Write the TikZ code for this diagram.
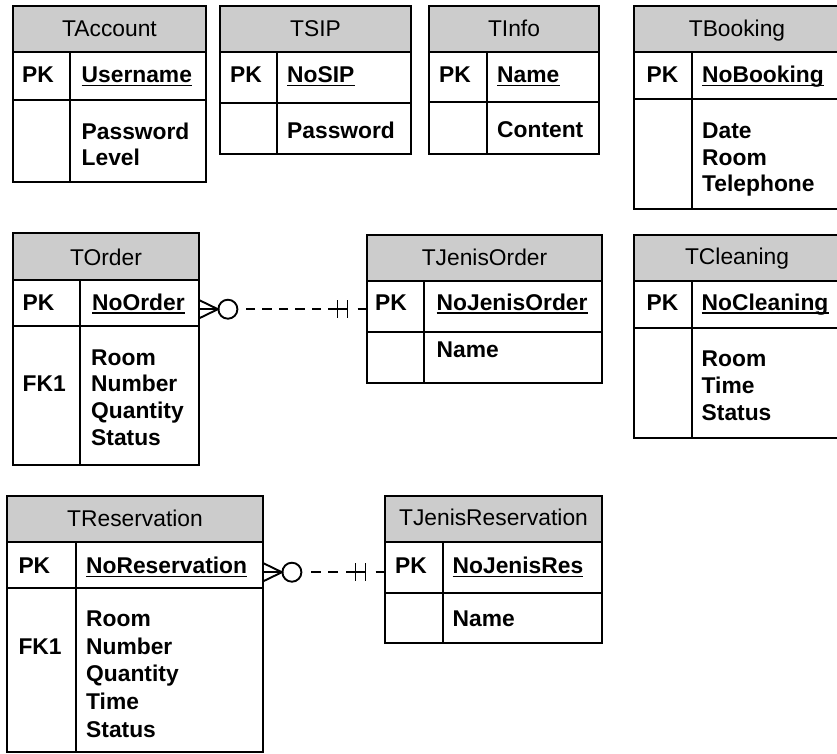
\documentclass[tikz,border=0pt]{standalone}
\usepackage{fontspec}
\setmainfont{Liberation Sans}
\usetikzlibrary{calc}
\definecolor{hdrgray}{RGB}{204,204,204}
\tikzset{
  frame/.style={line width=1.2pt, draw=black},
  ttl/.style={inner sep=0pt, anchor=base, font=\fontsize{22.8}{26.8}\selectfont},
  fld/.style={inner sep=0pt, anchor=base west, font=\fontsize{22.8}{26.8}\selectfont\bfseries},
  conn/.style={line width=1.9pt, draw=black},
  ulin/.style={line width=1.3pt},
}
% name, left, top, right, divider, header bottom, pk bottom, bottom
\newcommand\erframe[8]{%
  \fill[hdrgray] (#2,#3) rectangle (#4,#6);
  \draw[frame] (#2,#3) rectangle (#4,#8);
  \draw[frame] (#2,#6) -- (#4,#6) (#2,#7) -- (#4,#7) (#5,#6) -- (#5,#8);
  \node[inner sep=0pt, minimum width={(#4-#2)*1pt}, minimum height={(#7-#6)*1pt}, anchor=north west] (#1-pk) at (#2,#6) {};
}
% name, x, baseline, text
\newcommand\erkey[4]{%
  \node[fld] (#1-key) at (#2,#3) {#4};
  \draw[ulin] ([yshift=-3pt]#1-key.base west) -- ([yshift=-3pt]#1-key.base east);
}
% name, x, first baseline, skip, list
\newcommand\erbody[5]{%
  \foreach \fldtext [count=\fldi] in {#5}
    \node[fld] (#1-f\fldi) at (#2,{#3+(\fldi-1)*#4}) {\fldtext};
}
\begin{document}
\begin{tikzpicture}[x=1pt,y=-1pt]
\useasboundingbox (0,0) rectangle (837,754);

% TAccount
\erframe{TAccount}{13}{6}{206}{70}{52}{100}{182}
\node[ttl] (TAccount-title) at (109.5,36.7) {TAccount};
\node[fld] (TAccount-pkl) at (22,82.7) {PK};
\erkey{TAccount}{81.5}{82.7}{Username}
\erbody{TAccount}{81.5}{139.3}{26.3}{Password,Level}

% TSIP
\erframe{TSIP}{220}{6}{411}{277}{52}{103}{154}
\node[ttl] (TSIP-title) at (315.5,36.7) {TSIP};
\node[fld] (TSIP-pkl) at (230,82.7) {PK};
\erkey{TSIP}{287}{82.7}{NoSIP}
\erbody{TSIP}{287}{138.5}{26.3}{Password}

% TInfo
\erframe{TInfo}{429}{6}{599}{487}{52}{102}{154}
\node[ttl] (TInfo-title) at (514,36.2) {TInfo};
\node[fld] (TInfo-pkl) at (439,82.7) {PK};
\erkey{TInfo}{497}{82.7}{Name}
\erbody{TInfo}{497}{137.8}{26.3}{Content}

% TBooking
\erframe{TBooking}{634}{6}{841}{692}{52}{99}{209}
\node[ttl] (TBooking-title) at (737,36.2) {TBooking};
\node[fld] (TBooking-pkl) at (646.5,82.7) {PK};
\erkey{TBooking}{702}{82.7}{NoBooking}
\erbody{TBooking}{702}{139}{26.5}{Date,Room,Telephone}

% TOrder
\erframe{TOrder}{13}{233}{199}{80}{280}{326}{465}
\node[ttl] (TOrder-title) at (106,265.5) {TOrder};
\node[fld] (TOrder-pkl) at (22.5,310) {PK};
\erkey{TOrder}{92}{310}{NoOrder}
\erbody{TOrder}{91}{365}{26.7}{Room,Number,Quantity,Status}
\node[fld] (TOrder-fk) at (22.5,391.7) {FK1};

% TJenisOrder
\erframe{TJenisOrder}{367}{235}{602}{424}{281}{332}{383}
\node[ttl] (TJenisOrder-title) at (484.5,265) {TJenisOrder};
\node[fld] (TJenisOrder-pkl) at (375,310) {PK};
\erkey{TJenisOrder}{436.5}{310}{NoJenisOrder}
\erbody{TJenisOrder}{436.5}{357.5}{26.5}{Name}

% TCleaning
\erframe{TCleaning}{634}{235}{841}{692}{281}{328}{438}
\node[ttl] (TCleaning-title) at (737,264) {TCleaning};
\node[fld] (TCleaning-pkl) at (646.5,310) {PK};
\erkey{TCleaning}{701.5}{310}{NoCleaning}
\erbody{TCleaning}{701.5}{366.7}{26.7}{Room,Time,Status}

% TReservation
\erframe{TReservation}{7}{496}{263}{76}{542}{588}{752}
\node[ttl] (TReservation-title) at (135,526.5) {TReservation};
\node[fld] (TReservation-pkl) at (18.3,573.3) {PK};
\erkey{TReservation}{86}{573.3}{NoReservation}
\erbody{TReservation}{86}{626.7}{27.6}{Room,Number,Quantity,Time,Status}
\node[fld] (TReservation-fk) at (18.3,654.3) {FK1};

% TJenisReservation
\erframe{TJenisReservation}{385}{496}{602}{443}{542}{593}{643}
\node[ttl] (TJenisReservation-title) at (493.5,525.5) {TJenisReservation};
\node[fld] (TJenisReservation-pkl) at (395,573.3) {PK};
\erkey{TJenisReservation}{452.5}{573.3}{NoJenisRes}
\erbody{TJenisReservation}{452.5}{626.7}{26.5}{Name}

% Connector TOrder -- TJenisOrder
\path ($(TOrder-pk.east)+(0,6)$) coordinate (oA);
\coordinate (oB) at (oA -| TJenisOrder-pk.west);
\draw[conn] ($(oA)+(0,-9)$) -- ($(oA)+(18.5,0)$) -- ($(oA)+(0,9)$);
\draw[conn] (oA) -- ($(oA)+(18.5,0)$);
\draw[conn] ($(oA)+(28.5,0)$) circle[radius=9.5];
\draw[conn, dash pattern=on 9.5pt off 7pt] ($(oB)+(-29.5,0)$) -- ($(oA)+(40,0)$);
\draw[conn] ($(oB)+(-29.5,-9)$) -- ($(oB)+(-29.5,9)$);
\draw[conn] ($(oB)+(-19.5,-9)$) -- ($(oB)+(-19.5,9)$);
\draw[conn] ($(oB)+(-29.5,0)$) -- ($(oB)+(-19.5,0)$);
\draw[conn] ($(oB)+(-9.5,0)$) -- (oB);

% Connector TReservation -- TJenisReservation
\path ($(TReservation-pk.east)+(0,7)$) coordinate (rA);
\coordinate (rB) at (rA -| TJenisReservation-pk.west);
\draw[conn] ($(rA)+(0,-9)$) -- ($(rA)+(18.5,0)$) -- ($(rA)+(0,9)$);
\draw[conn] (rA) -- ($(rA)+(18.5,0)$);
\draw[conn] ($(rA)+(28.5,0)$) circle[radius=9.5];
\draw[conn, dash pattern=on 10pt off 7.5pt] ($(rB)+(-29.5,0)$) -- ($(rA)+(40,0)$);
\draw[conn] ($(rB)+(-29.5,-9)$) -- ($(rB)+(-29.5,9)$);
\draw[conn] ($(rB)+(-19.5,-9)$) -- ($(rB)+(-19.5,9)$);
\draw[conn] ($(rB)+(-29.5,0)$) -- ($(rB)+(-19.5,0)$);
\draw[conn] ($(rB)+(-9.5,0)$) -- (rB);
\end{tikzpicture}
\end{document}
